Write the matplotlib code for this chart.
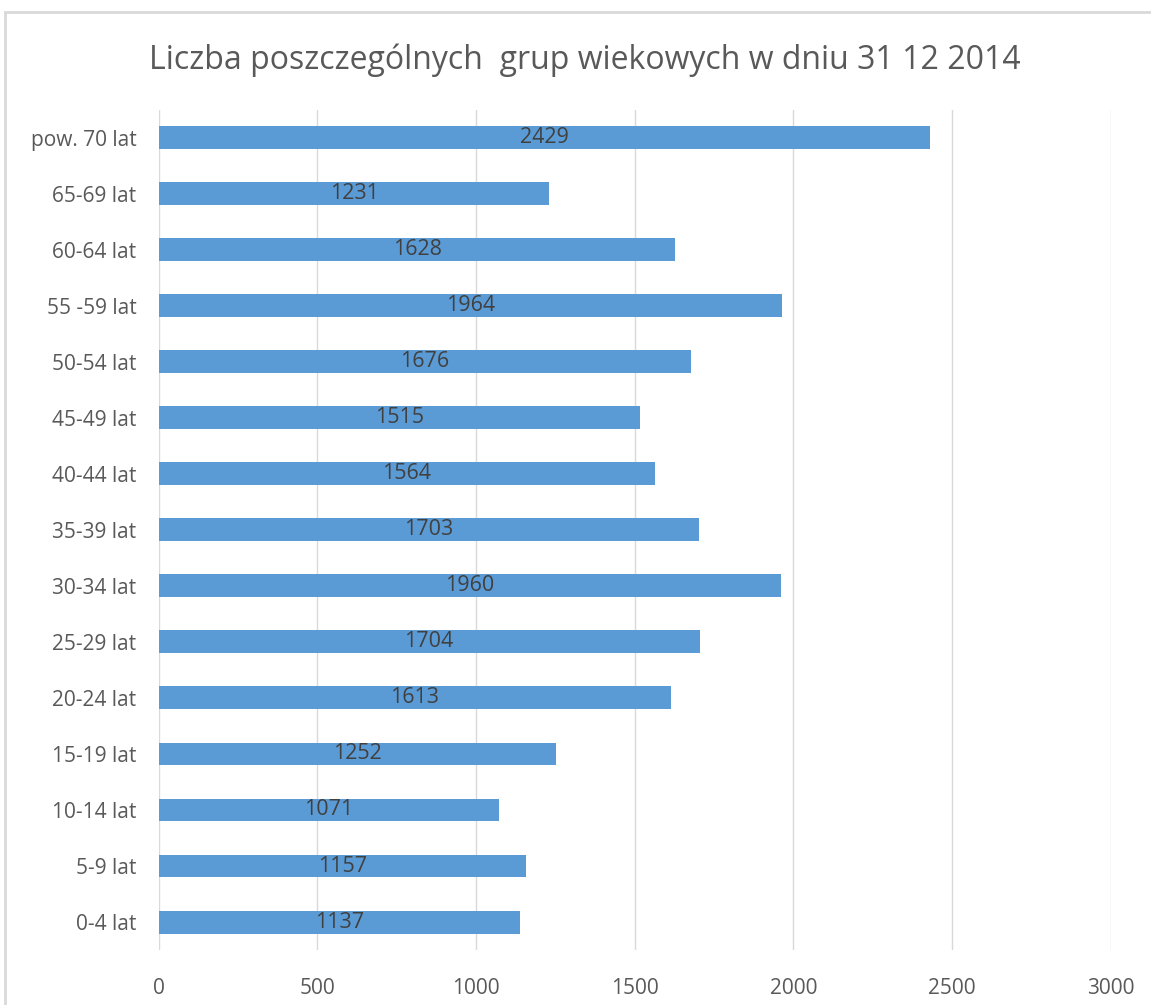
import matplotlib.pyplot as plt
from matplotlib.patches import Rectangle

categories = ['0-4 lat', '5-9 lat', '10-14 lat', '15-19 lat', '20-24 lat', '25-29 lat',
              '30-34 lat', '35-39 lat', '40-44 lat', '45-49 lat', '50-54 lat',
              '55 -59 lat', '60-64 lat', '65-69 lat', 'pow. 70 lat']
values = [1137, 1157, 1071, 1252, 1613, 1704, 1960, 1703, 1564, 1515, 1676,
          1964, 1628, 1231, 2429]
xticks = [0, 500, 1000, 1500, 2000, 2500, 3000]

plt.rcParams['font.family'] = ['Open Sans', 'DejaVu Sans']

fig = plt.figure(figsize=(11.51, 10.05), dpi=100)
ax = fig.add_axes([0.138, 0.0547, 0.827, 0.836])

# chart frame
fig.patches.append(Rectangle((5 / 1151, -0.1), 1.2, 1.088, transform=fig.transFigure,
                             fill=False, edgecolor='#D9D9D9', linewidth=2))

pos = range(len(categories))
bars = ax.barh(pos, values, height=0.41, color='#5B9BD5', zorder=3)
for p, v in zip(pos, values):
    ax.text(v / 2, p, str(v), ha='center', va='center', fontsize=15.5,
            color='#404040', zorder=4)

ax.set_xlim(0, 3000)
ax.set_ylim(-0.5, len(categories) - 0.5)
ax.set_xticks(xticks)
ax.set_yticks(list(pos))
ax.set_yticklabels(categories)
ax.tick_params(axis='both', length=0, labelsize=15, labelcolor='#595959')
ax.tick_params(axis='x', pad=20)
ax.tick_params(axis='y', pad=16)
ax.grid(axis='x', color='#D9D9D9', linewidth=1, zorder=0)
for s in ax.spines.values():
    s.set_visible(False)

fig.text(0.508, 0.94, 'Liczba poszczególnych  grup wiekowych w dniu 31 12 2014',
         ha='center', va='center', fontsize=23, color='#595959')

fig.savefig('out.png', dpi=100)
